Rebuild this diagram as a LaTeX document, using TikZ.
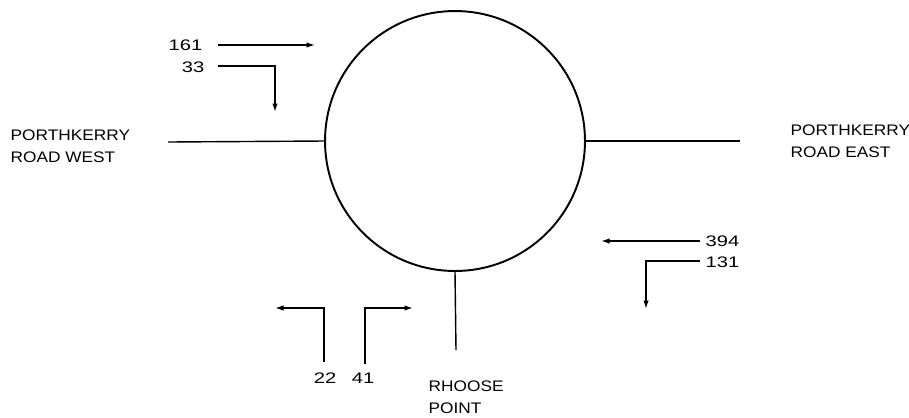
\documentclass[tikz,border=0pt]{standalone}
\usepackage{fontspec}
\setmainfont[FakeStretch=1.13]{Liberation Sans}
\newfontfamily\numfont[FakeStretch=1.32]{Liberation Sans}
\usetikzlibrary{arrows.meta}

\begin{document}
\begin{tikzpicture}[x=0.02cm, y=-0.02cm, >={Latex[length=1.7mm, width=1.1mm]},
  line width=0.8pt,
  lbl/.style={inner sep=0pt, font=\fontsize{8.7}{12.5}\selectfont, align=left},
  num/.style={inner sep=0pt, font=\numfont\fontsize{8.7}{12.5}\selectfont}]
  \useasboundingbox (0,0) rectangle (909,417);
  % rotonda
  \node[circle, draw, line width=1.1pt, minimum size=5.2cm, inner sep=0pt] (rb) at (455,141) {};
  \coordinate (W) at (168,142);
  \coordinate (E) at (740,141);
  \coordinate (S) at (456,350);
  \draw (W) -- (rb.west);
  \draw (rb.east) -- (E);
  \draw (rb.south) -- (S);
  % nombres de las calles
  \node[lbl, anchor=west] (west) at (10,146) {PORTHKERRY\\ROAD WEST};
  \node[lbl, anchor=west] (east) at (790,141) {PORTHKERRY\\ROAD EAST};
  \node[lbl, anchor=west] (south) at (428,397) {RHOOSE\\POINT};
  % flujos desde el oeste
  \node[num, anchor=east] (n161) at (203,45) {161};
  \node[num, anchor=east] (n33) at (205,67) {33};
  \coordinate (a1) at (218,45);
  \coordinate (a2) at (315,45);
  \coordinate (b1) at (218,66);
  \coordinate (b2) at (275,66);
  \coordinate (b3) at (275,112);
  \draw[->] (a1) -- (a2);
  \draw[->] (b1) -- (b2) -- (b3);
  % flujos desde el este
  \node[num, anchor=west] (n394) at (705,241) {394};
  \node[num, anchor=west] (n131) at (705,262) {131};
  \coordinate (c1) at (700,241);
  \coordinate (c2) at (601,241);
  \coordinate (d1) at (700,261);
  \coordinate (d2) at (646,261);
  \coordinate (d3) at (646,309);
  \draw[->] (c1) -- (c2);
  \draw[->] (d1) -- (d2) -- (d3);
  % flujos desde el sur
  \node[num] (n22) at (325,378) {22};
  \node[num] (n41) at (363,378) {41};
  \coordinate (e1) at (324,362);
  \coordinate (e2) at (324,308);
  \coordinate (e3) at (275,308);
  \coordinate (f1) at (365,364);
  \coordinate (f2) at (365,308);
  \coordinate (f3) at (413,308);
  \draw[->] (e1) -- (e2) -- (e3);
  \draw[->] (f1) -- (f2) -- (f3);
\end{tikzpicture}
\end{document}
